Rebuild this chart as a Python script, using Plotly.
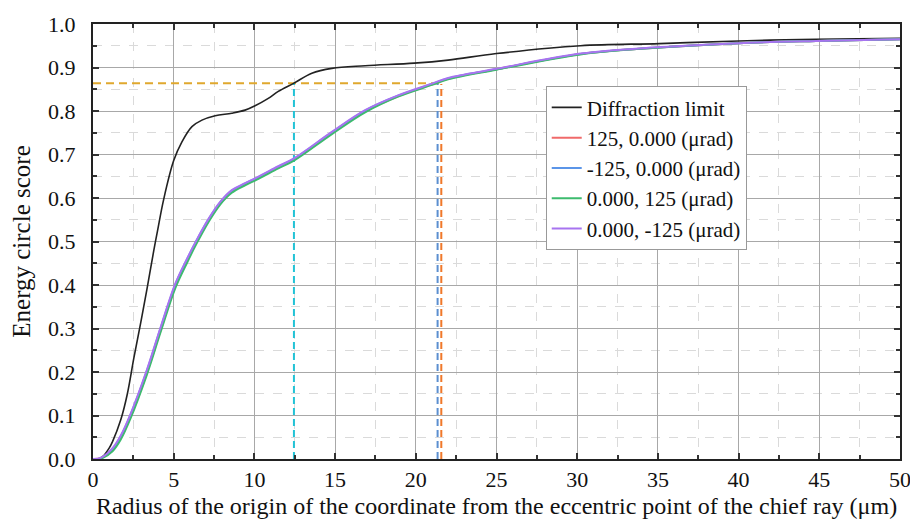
import plotly.graph_objects as go

# ---- data ----
x_dl = [0, 0.3, 0.61, 1.0, 1.21, 1.72, 2.13, 2.53, 2.94, 3.34, 3.77, 4.0, 4.38, 5.0, 5.51,
        6.13, 6.75, 7.57, 8.6, 9.42, 10.04, 10.86, 11.48, 12.45, 13.56, 14.8, 16.86, 19.9,
        22, 25, 30.2, 35.1, 40, 44.8, 50]
y_dl = [0, 0, 0.006, 0.025, 0.04, 0.09, 0.15, 0.232, 0.31, 0.39, 0.48, 0.525, 0.597, 0.686, 0.729,
        0.764, 0.779, 0.789, 0.795, 0.802, 0.812, 0.829, 0.845, 0.864, 0.887, 0.898, 0.904, 0.910,
        0.917, 0.932, 0.95, 0.955, 0.961, 0.965, 0.967]

x_ab = [0, 0.5, 1.21, 1.72, 2.33, 3.33, 4.2, 5.1, 5.85, 6.4, 7.16, 7.88, 8.6, 9.42, 10.25,
        11.48, 12.45, 14.8, 16.86, 18.9, 21.0, 22, 25, 30.2, 35.1, 40, 44.8, 50]
y_red = [0, 0.002, 0.021, 0.048, 0.098, 0.197, 0.297, 0.397, 0.457, 0.498, 0.548, 0.587, 0.614, 0.631,
         0.646, 0.670, 0.688, 0.749, 0.799, 0.834, 0.861, 0.874, 0.896, 0.931, 0.946, 0.956, 0.961, 0.965]
y_blue = [0, 0.002, 0.023, 0.052, 0.102, 0.202, 0.302, 0.401, 0.461, 0.501, 0.551, 0.590, 0.617, 0.633,
          0.648, 0.672, 0.690, 0.751, 0.801, 0.835, 0.862, 0.875, 0.896, 0.931, 0.946, 0.956, 0.961, 0.965]
y_green = [0, 0.001, 0.018, 0.045, 0.094, 0.193, 0.293, 0.393, 0.453, 0.494, 0.545, 0.585, 0.612, 0.629,
           0.644, 0.668, 0.686, 0.747, 0.797, 0.833, 0.860, 0.873, 0.895, 0.930, 0.946, 0.956, 0.961, 0.965]
y_purple = [0, 0.003, 0.025, 0.054, 0.104, 0.204, 0.304, 0.403, 0.462, 0.502, 0.552, 0.591, 0.618, 0.634,
            0.649, 0.673, 0.691, 0.752, 0.802, 0.836, 0.863, 0.876, 0.897, 0.932, 0.947, 0.956, 0.961, 0.965]

names = ["Diffraction limit", "125, 0.000 (μrad)", "-125, 0.000 (μrad)",
         "0.000, 125 (μrad)", "0.000, -125 (μrad)"]

# marker lines (reference readings)
cyan_x = [12.45, 12.45]
cyan_y = [0, 0.864]
blue_x = [21.35, 21.35]
blue_y = [0, 0.862]
orange_x = [21.58, 21.58]
orange_y = [0, 0.862]
gold_x = [0, 21.58]
gold_y = [0.864, 0.864]

x_ticks = [0, 5, 10, 15, 20, 25, 30, 35, 40, 45, 50]
y_ticks = [0.0, 0.1, 0.2, 0.3, 0.4, 0.5, 0.6, 0.7, 0.8, 0.9, 1.0]

FONT = "Liberation Serif"

fig = go.Figure()

# dashed guide lines (no legend)
fig.add_trace(go.Scatter(x=gold_x, y=gold_y, mode="lines", showlegend=False,
                         line=dict(color="#E0A82E", width=2, dash="8px,5px")))
fig.add_trace(go.Scatter(x=cyan_x, y=cyan_y, mode="lines", showlegend=False,
                         line=dict(color="#22C3D6", width=2, dash="7px,4px")))
fig.add_trace(go.Scatter(x=blue_x, y=blue_y, mode="lines", showlegend=False,
                         line=dict(color="#5B8FD0", width=2, dash="7px,4px")))
fig.add_trace(go.Scatter(x=orange_x, y=orange_y, mode="lines", showlegend=False,
                         line=dict(color="#F0782A", width=2, dash="7px,4px")))

fig.add_trace(go.Scatter(x=x_dl, y=y_dl, mode="lines", name=names[0],
                         line=dict(color="#222222", width=1.6, shape="spline", smoothing=1.0)))
colors = ["#F06A6A", "#5B95E8", "#3DBB6E", "#A774F0"]
for nm, ys, c in zip(names[1:], [y_red, y_blue, y_green, y_purple], colors):
    fig.add_trace(go.Scatter(x=x_ab, y=ys, mode="lines", name=nm,
                             line=dict(color=c, width=2, shape="spline", smoothing=1.0)))

axis_common = dict(
    showline=True, linecolor="#222222", linewidth=2, mirror="ticks",
    ticks="inside", ticklen=6, tickwidth=2, tickcolor="#333333",
    showgrid=True, gridcolor="#a8a8a8", gridwidth=1.3, zeroline=False,
    tickfont=dict(family=FONT, size=22, color="#111111"),
    automargin=False,
)

fig.update_xaxes(
    range=[0, 50], tickvals=x_ticks, ticktext=[str(v) for v in x_ticks],
    title=dict(text="Radius of the origin of the coordinate from the eccentric point of the chief ray (μm)",
               font=dict(family=FONT, size=24, color="#111111"), standoff=6),
    minor=dict(dtick=2.5, tick0=0, showgrid=True, gridcolor="#dadada", griddash="dash",
               gridwidth=1, ticks="inside", ticklen=4, tickcolor="#333333", tickwidth=2),
    **axis_common)
fig.update_yaxes(
    range=[0, 1.0], tickvals=y_ticks, ticktext=[f"{v:.1f}\u2002" for v in y_ticks],
    title=dict(text="Energy circle score", font=dict(family=FONT, size=25, color="#111111"), standoff=14),
    minor=dict(dtick=0.05, tick0=0, showgrid=True, gridcolor="#dadada", griddash="dash",
               gridwidth=1, ticks="inside", ticklen=4, tickcolor="#333333", tickwidth=2),
    **axis_common)

# the page body has an 8px margin, so the figure is sized/placed to compensate
fig.update_layout(
    width=910, height=524,
    margin=dict(l=85, r=18, t=16, b=73),
    plot_bgcolor="white", paper_bgcolor="white",
    font=dict(family=FONT, size=22, color="#111111"),
    legend=dict(x=0.561, y=0.857, xanchor="left", yanchor="top",
                bgcolor="white", bordercolor="#999999", borderwidth=1,
                font=dict(family=FONT, size=21, color="#111111"),
                itemwidth=30, tracegroupgap=0),
)

fig.write_html("out.html")
